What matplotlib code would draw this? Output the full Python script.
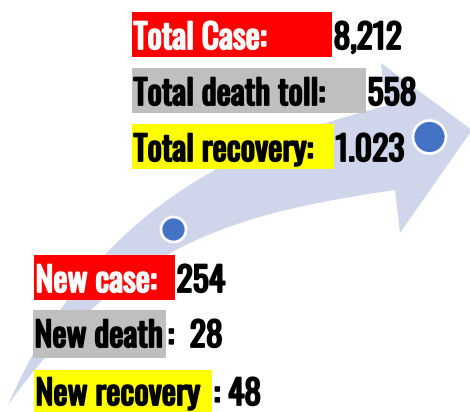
import matplotlib
matplotlib.use("Agg")
import matplotlib.pyplot as plt
import matplotlib.patheffects as pe
from matplotlib.path import Path
from matplotlib.patches import PathPatch, Rectangle, Circle
from matplotlib import font_manager
from matplotlib.font_manager import FontProperties
from matplotlib.textpath import TextPath

# ---- data ----
total_labels = ["Total Case:", "Total death toll:", "Total recovery:"]
total_values = ["8,212", "558", "1.023"]
new_labels = ["New case:", "New death", "New recovery"]
new_values = ["254", ":  28", ": 48"]
highlight_colors = ["#FF0000", "#BFBFBF", "#FFFF00"]
label_text_colors = ["white", "black", "black"]

# ---- font ----
names = {f.name for f in font_manager.fontManager.ttflist}
primary = next((n for n in ["Oswald", "Barlow Condensed", "Archivo Narrow"] if n in names), "DejaVu Sans")
FAM = [primary, "DejaVu Sans"]
STROKE = 1.3 if primary == "Oswald" else 0.0

W, H = 470, 412
fig = plt.figure(figsize=(W / 100, H / 100), dpi=100)
ax = fig.add_axes([0, 0, 1, 1])
ax.set_xlim(0, W)
ax.set_ylim(H, 0)
ax.axis("off")

# size the font: "Total death toll:" ~192 px wide, capitals at most ~28 px tall
renderer = fig.canvas.get_renderer()
probe = ax.text(0, 0, total_labels[1], family=FAM, fontsize=20, fontweight="bold")
wpx = probe.get_window_extent(renderer).width
probe.remove()
fs_w = 20 * 192.0 / wpx
fp = FontProperties(family=FAM, weight="bold")
cap = TextPath((0, 0), "H", size=100, prop=fp).get_extents().height / 100.0  # in em
fs_h = 28.0 / (cap * 100 / 72.0)
FS = min(fs_w, fs_h)

# ---- curved arrow (decoration) ----
verts = [(8, 405), (93, 209.5), (236, 143.5), (386, 106),
         (381, 63), (472, 130), (400, 233), (395, 190),
         (245, 212.5), (128, 237), (8, 405), (8, 405)]
codes = [Path.MOVETO, Path.CURVE4, Path.CURVE4, Path.CURVE4,
         Path.LINETO, Path.LINETO, Path.LINETO, Path.LINETO,
         Path.CURVE4, Path.CURVE4, Path.CURVE4, Path.CLOSEPOLY]
ax.add_patch(PathPatch(Path(verts, codes), facecolor="#CFD5EA", edgecolor="none", zorder=1))

# markers on the arrow
for (cx, cy, r) in [(429.5, 137, 16.5), (173.5, 229.5, 12.5)]:
    ax.add_patch(Circle((cx, cy), r, facecolor="#4472C4", edgecolor="white", linewidth=2, zorder=2))

# ---- text blocks ----
top_boxes = [(132, 12, 332, 57), (132, 68, 366, 113), (132, 124, 334, 169)]
top_base = [49, 105, 161]
new_boxes = [(34, 255, 175, 300), (33, 310, 166, 358), (34, 370, 212, 413)]
new_base = [292, 347, 405]

def effects(color):
    if STROKE > 0:
        return [pe.withStroke(linewidth=STROKE, foreground=color)]
    return []

def block(boxes, bases, labels, values):
    for (x0, y0, x1, y1), yb, lab, val, bc, tc in zip(boxes, bases, labels, values,
                                                       highlight_colors, label_text_colors):
        ax.add_patch(Rectangle((x0, y0), x1 - x0, y1 - y0, facecolor=bc, edgecolor="none", zorder=3))
        ax.text(x0 + 1.5, yb, lab, family=FAM, fontsize=FS, fontweight="bold", color=tc,
                va="baseline", ha="left", zorder=4, path_effects=effects(tc))
        ax.text(x1 + 1.5, yb, val, family=FAM, fontsize=FS, fontweight="bold", color="black",
                va="baseline", ha="left", zorder=4, path_effects=effects("black"))

block(top_boxes, top_base, total_labels, total_values)
block(new_boxes, new_base, new_labels, new_values)

fig.savefig("out.png", dpi=100)
